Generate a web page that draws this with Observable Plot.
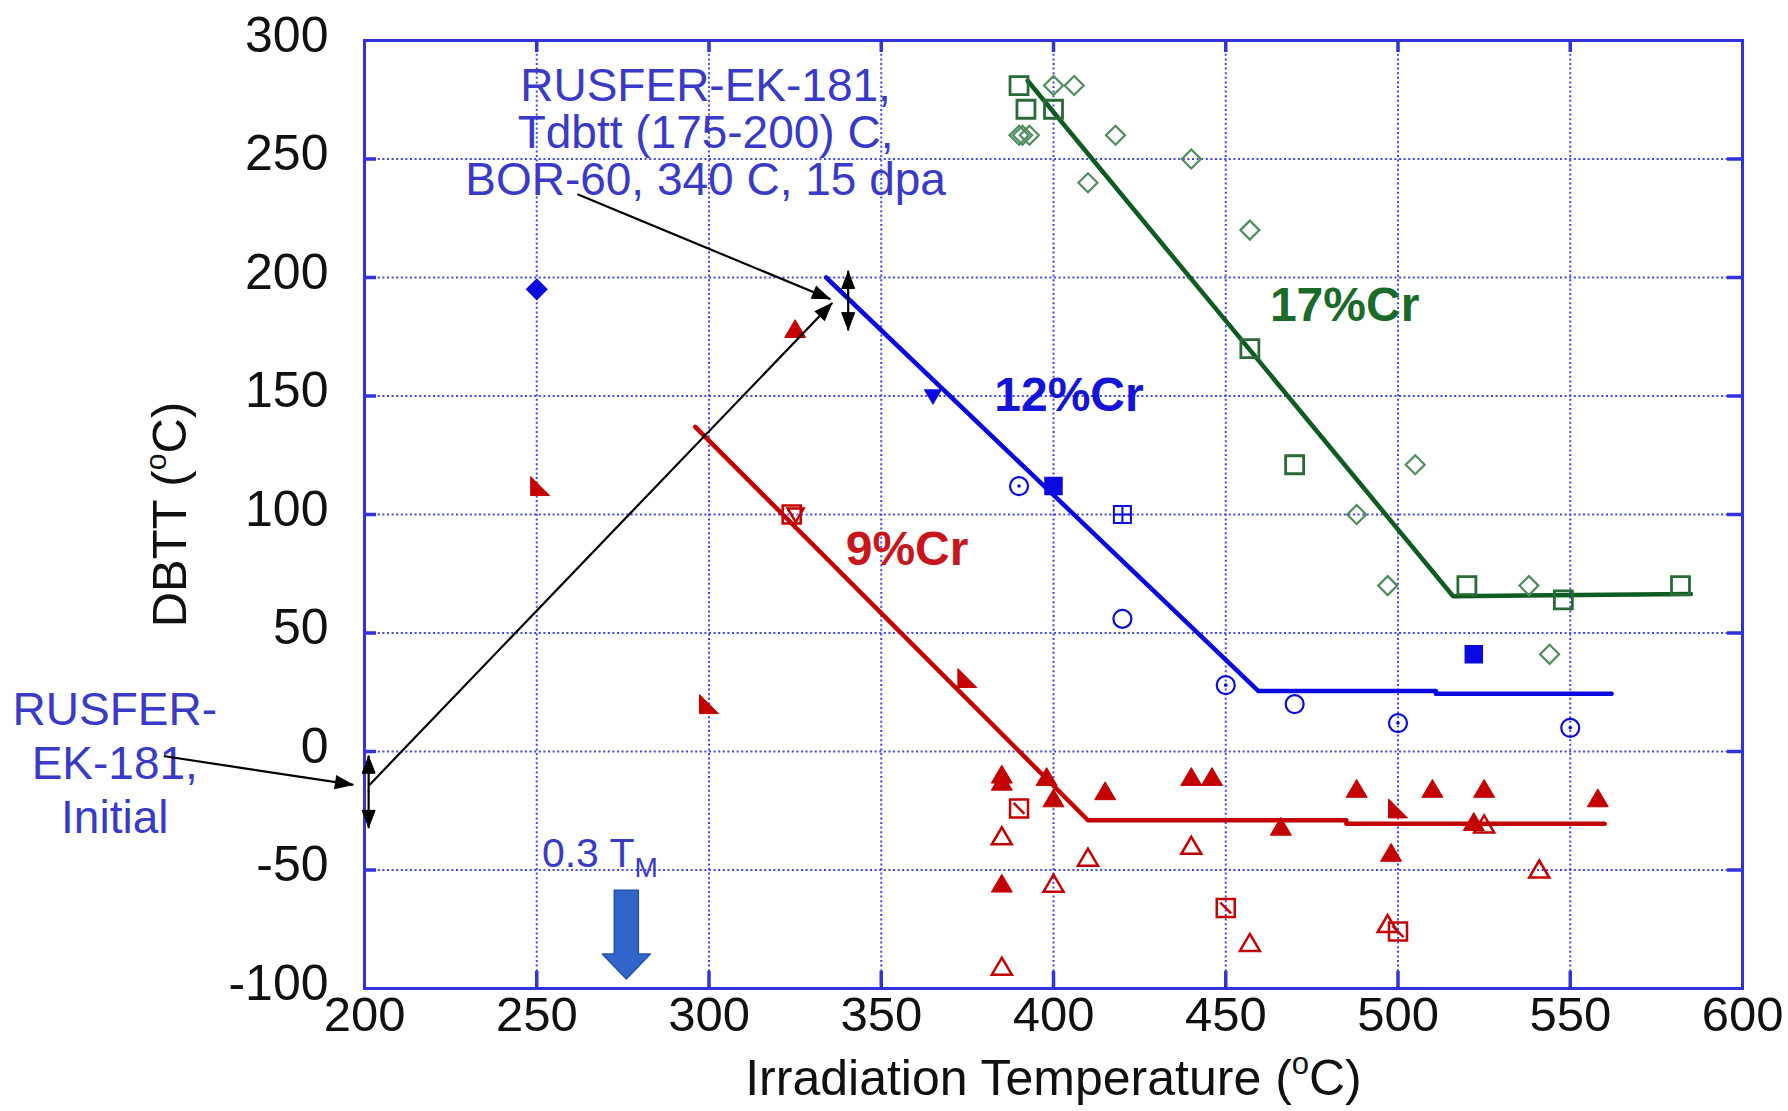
<!DOCTYPE html>
<html><head><meta charset="utf-8">
<script src="https://cdn.jsdelivr.net/npm/d3@7"></script>
<script src="https://cdn.jsdelivr.net/npm/@observablehq/plot@0.6"></script>
<style>
html,body{margin:0;padding:0;background:#fff;}
svg{display:block;}
</style>
</head><body><div id="chart"></div>
<script>
// ---------- axes ----------
const xTicks = [200, 250, 300, 350, 400, 450, 500, 550, 600];
const yTicks = [-100, -50, 0, 50, 100, 150, 200, 250, 300];
const xTitle = "Irradiation Temperature (oC)";
const yTitle = "DBTT (oC)";

// ---------- 9%Cr (red) ----------
const cr9FilledTri = [[385,-10],[385,-13],[398,-11],[400,-20],[415,-17],[440,-11],[446,-11],[466,-32],[488,-16],[510,-16],[525,-16],[558,-20],[522,-30],[498,-43],[385,-56],[325,178]];
const cr9OpenTri = [[385,-36],[410,-45],[440,-40],[400,-56],[457,-81],[385,-91],[525,-31],[541,-50],[497,-73]];
const cr9SlashSq = [[390,-24],[450,-66],[500,-76]];
const cr9RightTri = [[251,112],[300,20],[375,31],[500,-24]];
const cr9TriSq = [[324,100]];
const cr9LineX = [296, 410, 485, 485, 560];
const cr9LineY = [137, -29, -29, -30.5, -30.5];

// ---------- 12%Cr (blue) ----------
const cr12FilledDiamond = [[250,195]];
const cr12DownTri = [[365,150]];
const cr12DotCircle = [[390,112],[450,28],[500,12],[550,10]];
const cr12OpenCircle = [[420,56],[470,20]];
const cr12FilledSq = [[400,112],[522,41]];
const cr12PlusSq = [[420,100]];
const cr12LineX = [334, 459.5, 511, 511, 562];
const cr12LineY = [200, 25.5, 25.5, 24.4, 24.4];

// ---------- 17%Cr (green) ----------
const cr17Sq = [[390,281],[392,271],[400,271],[457,170],[470,121],[520,70],[548,64],[582,70]];
const cr17Diamond = [[400,281],[406,281],[390,260],[391,260],[393,260],[418,260],[410,240],[440,250],[457,220],[505,121],[488,100],[497,70],[538,70],[544,41]];
const cr17LineX = [392.5, 516, 585];
const cr17LineY = [283, 65.5, 66.5];

// ---------- labels & annotations ----------
const seriesLabel = ["9%Cr", "12%Cr", "17%Cr"];
const seriesLabelX = [357.5, 404.5, 484.5];
const seriesLabelY = [85, 150, 188];

const noteText = ["RUSFER-EK-181,\nTdbtt (175-200) C,\nBOR-60, 340 C, 15 dpa", "RUSFER-\nEK-181,\nInitial"];
const noteX = [299, 127.5];
const noteY = [261, -4.3];

const tmText = "0.3 T_M";
const tmX = 251.5, tmY = -43;
const tmArrowX = 276, tmArrowTop = -58.5, tmArrowTip = -96;

// black arrows (x1,y1) -> (x2,y2)
const arrowX1 = [142, 262, 201.5, 201.2, 201.2, 340.4, 340.4];
const arrowY1 = [-2, 235, -14, -17, -17, 190, 190];
const arrowX2 = [196.5, 335, 335.6, 201.2, 201.2, 340.4, 340.4];
const arrowY2 = [-14, 191, 189, -2, -32, 202.5, 178];

// ---------- layout / style ----------
const W = 1788, H = 1111, mL = 364, mR = 46, mT = 40, mB = 123;
const frameW = W - mL - mR, frameH = H - mT - mB;
const pxX = frameW / 400, pxY = frameH / 400;
const frameColor = "#3232e0", gridColor = "#4646e6";
const red = "#c40000", blue = "#0a0ae0", green = "#0f5c22";
const greenSqC = "#2a6a36", greenDiaC = "#4f8d5e";
const noteBlue = "#3a3ac8";

const R = s => Math.sqrt(s / Math.PI);
const sym = {
  triUp: {draw(c, s) { const r = R(s); c.moveTo(0, -0.95 * r); c.lineTo(r, 0.75 * r); c.lineTo(-r, 0.75 * r); c.closePath(); }},
  triDown: {draw(c, s) { const r = R(s); c.moveTo(0, 0.95 * r); c.lineTo(r, -0.75 * r); c.lineTo(-r, -0.75 * r); c.closePath(); }},
  rightTri: {draw(c, s) { const r = R(s); c.moveTo(-r, -r); c.lineTo(r, r); c.lineTo(-r, r); c.closePath(); }},
  square: {draw(c, s) { const r = R(s); c.moveTo(-r, -r); c.lineTo(r, -r); c.lineTo(r, r); c.lineTo(-r, r); c.closePath(); }},
  slashSq: {draw(c, s) { const r = R(s); c.moveTo(-r, -r); c.lineTo(r, -r); c.lineTo(r, r); c.lineTo(-r, r); c.closePath(); c.moveTo(-0.6 * r, -0.6 * r); c.lineTo(0.6 * r, 0.6 * r); }},
  plusSq: {draw(c, s) { const r = R(s); c.moveTo(-r, -r); c.lineTo(r, -r); c.lineTo(r, r); c.lineTo(-r, r); c.closePath(); c.moveTo(0, -r); c.lineTo(0, r); c.moveTo(-r, 0); c.lineTo(r, 0); }},
  diamond: {draw(c, s) { const r = R(s); c.moveTo(0, -r); c.lineTo(r, 0); c.lineTo(0, r); c.lineTo(-r, 0); c.closePath(); }},
  circle: {draw(c, s) { const r = R(s); c.moveTo(r, 0); c.arc(0, 0, r, 0, 2 * Math.PI); }},
  head: {draw(c) { c.moveTo(0, 0); c.lineTo(-6.5, 17); c.lineTo(6.5, 17); c.closePath(); }}
};

const px = d => d[0], py = d => d[1];
const xInner = xTicks.slice(1, -1), yInner = yTicks.slice(1, -1);

// block arrow polygon under "0.3 TM"
const hw = 12 / pxX, hh = 24 / pxX, hl = 25 / pxY;
const tmPoly = [
  [tmArrowX - hw, tmArrowTop], [tmArrowX + hw, tmArrowTop], [tmArrowX + hw, tmArrowTip + hl],
  [tmArrowX + hh, tmArrowTip + hl], [tmArrowX, tmArrowTip], [tmArrowX - hh, tmArrowTip + hl],
  [tmArrowX - hw, tmArrowTip + hl], [tmArrowX - hw, tmArrowTop]
];

// heading measured clockwise from screen north
const arrows = arrowX1.map((x1, i) => ({
  x1, y1: arrowY1[i], x2: arrowX2[i], y2: arrowY2[i],
  angle: Math.atan2((arrowX2[i] - x1) * pxX, (arrowY2[i] - arrowY1[i]) * pxY) * 180 / Math.PI
}));
const labels = seriesLabel.map((t, i) => ({t, x: seriesLabelX[i], y: seriesLabelY[i]}));

const chart = Plot.plot({
  width: W, height: H,
  marginLeft: mL, marginRight: mR, marginTop: mT, marginBottom: mB,
  x: {domain: [200, 600], label: null},
  y: {domain: [-100, 300], label: null},
  style: {fontFamily: "'Liberation Sans', Arial, sans-serif", background: "white", color: "black"},
  marks: [
    Plot.gridX(xInner, {stroke: gridColor, strokeOpacity: 1, strokeWidth: 2, strokeDasharray: "2,2.6"}),
    Plot.gridY(yInner, {stroke: gridColor, strokeOpacity: 1, strokeWidth: 2, strokeDasharray: "2,2.6"}),
    Plot.ruleX(xInner, {insetTop: frameH - 17, stroke: frameColor, strokeWidth: 3.5}),
    Plot.ruleX(xInner, {insetBottom: frameH - 12, stroke: frameColor, strokeWidth: 3.5}),
    Plot.ruleY(yInner, {insetRight: frameW - 12, stroke: frameColor, strokeWidth: 3.5}),
    Plot.ruleY(yInner, {insetLeft: frameW - 15, stroke: frameColor, strokeWidth: 3.5}),
    Plot.frame({stroke: frameColor, strokeWidth: 3}),
    Plot.axisX(xTicks, {anchor: "bottom", tickSize: 0, tickPadding: 8, fontSize: 49, label: null, fill: "#111", tickFormat: d => String(d)}),
    Plot.axisY(yTicks, {anchor: "left", tickSize: 0, tickPadding: 36, fontSize: 50, dy: -5, label: null, fill: "#111", tickFormat: d => String(d)}),
    Plot.text([xTitle], {frameAnchor: "bottom", textAnchor: "middle", dy: 106, fontSize: 50, fill: "#111"}),
    Plot.text([yTitle], {frameAnchor: "left", textAnchor: "middle", rotate: -90, dx: -194, fontSize: 49, fill: "#111"}),

    // fit lines
    Plot.line(d3.zip(cr9LineX, cr9LineY), {x: px, y: py, stroke: red, strokeWidth: 4.5}),
    Plot.line(d3.zip(cr12LineX, cr12LineY), {x: px, y: py, stroke: blue, strokeWidth: 4.5}),
    Plot.line(d3.zip(cr17LineX, cr17LineY), {x: px, y: py, stroke: green, strokeWidth: 4.5}),

    // 17%Cr markers
    Plot.dot(cr17Sq, {x: px, y: py, symbol: sym.square, r: 9, fill: "none", stroke: greenSqC, strokeWidth: 2.8}),
    Plot.dot(cr17Diamond, {x: px, y: py, symbol: sym.diamond, r: 9.5, fill: "none", stroke: greenDiaC, strokeWidth: 2.2}),

    // 12%Cr markers
    Plot.dot(cr12FilledDiamond, {x: px, y: py, symbol: sym.diamond, r: 10, fill: blue, stroke: blue}),
    Plot.dot(cr12DownTri, {x: px, y: py, symbol: sym.triDown, r: 8, fill: blue, stroke: blue}),
    Plot.dot(cr12DotCircle, {x: px, y: py, symbol: sym.circle, r: 9, fill: "none", stroke: blue, strokeWidth: 2.2}),
    Plot.dot(cr12DotCircle, {x: px, y: py, symbol: sym.circle, r: 1.8, fill: blue, stroke: "none"}),
    Plot.dot(cr12OpenCircle, {x: px, y: py, symbol: sym.circle, r: 9, fill: "none", stroke: blue, strokeWidth: 2.2}),
    Plot.dot(cr12FilledSq, {x: px, y: py, symbol: sym.square, r: 8.5, fill: blue, stroke: blue}),
    Plot.dot(cr12PlusSq, {x: px, y: py, symbol: sym.plusSq, r: 8.5, fill: "none", stroke: blue, strokeWidth: 2}),

    // 9%Cr markers
    Plot.dot(cr9OpenTri, {x: px, y: py, symbol: sym.triUp, r: 10, fill: "none", stroke: red, strokeWidth: 2.5}),
    Plot.dot(cr9SlashSq, {x: px, y: py, symbol: sym.slashSq, r: 9, fill: "none", stroke: red, strokeWidth: 2.5}),
    Plot.dot(cr9TriSq, {x: px, y: py, symbol: sym.square, r: 9, fill: "none", stroke: red, strokeWidth: 2.5}),
    Plot.dot(cr9TriSq, {x: px, y: py, symbol: sym.triDown, r: 8, dx: 4, fill: "none", stroke: red, strokeWidth: 2.5}),
    Plot.dot(cr9RightTri, {x: px, y: py, symbol: sym.rightTri, r: 9.5, fill: red, stroke: red, strokeWidth: 1}),
    Plot.dot(cr9FilledTri, {x: px, y: py, symbol: sym.triUp, r: 10.5, fill: red, stroke: red, strokeWidth: 1}),

    // series labels
    Plot.text(labels, {x: "x", y: "y", text: "t", fontSize: 48, fontWeight: "bold",
      fill: (d) => d.t === "9%Cr" ? "#c8161d" : d.t === "12%Cr" ? "#1414d8" : "#1a6a2a"}),

    // annotations
    Plot.text([noteText[0]], {x: noteX[0], y: noteY[0], fontSize: 46, lineHeight: 1.02, fill: noteBlue}),
    Plot.text([noteText[1]], {x: noteX[1], y: noteY[1], fontSize: 46, lineHeight: 1.18, fill: noteBlue}),
    Plot.text([tmText], {x: tmX, y: tmY, fontSize: 41, textAnchor: "start", fill: noteBlue}),
    Plot.line(tmPoly, {x: px, y: py, fill: "#3165c9", stroke: "#2450ac", strokeWidth: 1.5}),
    Plot.arrow(arrows, {x1: "x1", y1: "y1", x2: "x2", y2: "y2", stroke: "black", strokeWidth: 2.2, headLength: 0}),
    Plot.dot(arrows, {x: "x2", y: "y2", symbol: sym.head, rotate: d => d.angle, fill: "black", stroke: "black", strokeWidth: 1})
  ]
});

// superscript / subscript fixes
d3.select(chart).selectAll("text").each(function () {
  const t = this.textContent;
  const sel = d3.select(this);
  if (t === xTitle || t === yTitle) {
    const fs = t === xTitle ? 50 : 49;
    const before = t.slice(0, t.indexOf("(") + 1);
    sel.text(null);
    sel.append("tspan").text(before);
    sel.append("tspan").attr("dy", -0.42 * fs).attr("font-size", 0.62 * fs).text("o");
    sel.append("tspan").attr("dy", 0.42 * fs).text("C)");
  } else if (t === tmText) {
    sel.text(null);
    sel.append("tspan").text("0.3 T");
    sel.append("tspan").attr("dy", 10).attr("font-size", 28).text("M");
  }
});

document.getElementById("chart").appendChild(chart);
</script>
</body></html>
